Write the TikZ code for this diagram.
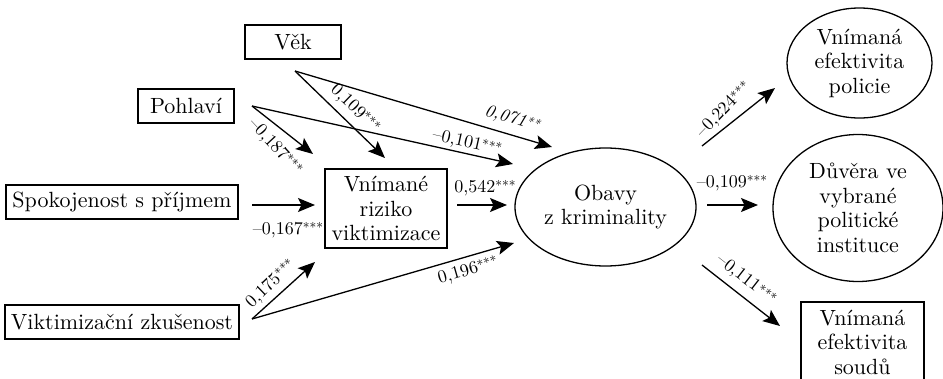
\documentclass[tikz,border=0pt]{standalone}
\usepackage{fontspec}
\setmainfont{lmroman10-regular.otf}[ItalicFont=lmroman10-italic.otf, BoldFont=lmroman10-bold.otf]
\usetikzlibrary{shapes.geometric,arrows.meta}
\newcommand\stars[1]{\raisebox{0.1em}{\fontsize{13.5}{14}\selectfont #1}}
\begin{document}
\begin{tikzpicture}[x=1pt,y=-1pt,
  box/.style={draw, line width=1.2pt, inner sep=0pt, align=center, font=\fontsize{22}{24.5}\selectfont},
  oval/.style={ellipse, draw, line width=1.3pt, inner sep=0pt, align=center, font=\fontsize{22}{24.5}\selectfont},
  arr/.style={line width=1.3pt, -{Stealth[length=17pt,width=14pt,inset=3.5pt]}},
  lab/.style={font=\fontsize{18}{19}\selectfont, inner sep=0pt}]
\useasboundingbox[fill=white] (0,0) rectangle (943,378);
% nodes
\node[box, minimum width=96pt, minimum height=34pt] (vek) at (293,42) {Věk};
\node[box, minimum width=96pt, minimum height=34pt] (pohl) at (186,106) {Pohlaví};
\node[box, minimum width=232pt, minimum height=34pt] (spok) at (122,202) {Spokojenost s příjmem};
\node[box, minimum width=234pt, minimum height=34pt] (vikt) at (122,322) {Viktimizační zkušenost};
\node[box, minimum width=122pt, minimum height=79pt] (riz) at (386,208.5) {Vnímané\\riziko\\viktimizace};
\node[oval, minimum width=181pt, minimum height=118pt] (obavy) at (605.5,207) {Obavy\\z kriminality};
\node[oval, minimum width=145pt, minimum height=110pt] (pol) at (859.5,63) {Vnímaná\\efektivita\\policie};
\node[oval, minimum width=170pt, minimum height=147pt] (duv) at (858,208) {Důvěra ve\\vybrané\\politické\\instituce};
\node[box, minimum width=123pt, minimum height=80pt] (soud) at (862.5,342) {Vnímaná\\efektivita\\soudů};
% connector ends
\coordinate (vekS) at (295,71);
\coordinate (pohlS) at (252,106);
\coordinate (spokS) at (252,205);
\coordinate (viktS) at (252,319);
\coordinate (rizS) at (457,205);
\coordinate (obS1) at (702,146);
\coordinate (obS2) at (707,205);
\coordinate (obS3) at (702,265);
\coordinate (vekE1) at (552,147);
\coordinate (vekE2) at (385,158);
\coordinate (pohlE1) at (313,154);
\coordinate (pohlE2) at (513,164);
\coordinate (spokE) at (315,205);
\coordinate (rizE) at (507,205);
\coordinate (viktE1) at (315,262);
\coordinate (viktE2) at (514,243);
\coordinate (polE) at (775,88);
\coordinate (duvE) at (758,205);
\coordinate (soudE) at (780,326);
% connectors
\draw[arr] (vekS) -- (vekE1);
\draw[arr] (vekS) -- (vekE2);
\draw[arr] (pohlS) -- (pohlE1);
\draw[arr] (pohlS) -- (pohlE2);
\draw[arr] (spokS) -- (spokE);
\draw[arr] (rizS) -- (rizE);
\draw[arr] (viktS) -- (viktE1);
\draw[arr] (viktS) -- (viktE2);
\draw[arr] (obS1) -- (polE);
\draw[arr] (obS2) -- (duvE);
\draw[arr] (obS3) -- (soudE);
% labels
\node[lab, rotate=-16.5] (l1) at (512,119) {\textit{0,071\stars{**}}};
\node[lab, rotate=-12.5] (l2) at (467,143) {–0,101\stars{***}};
\node[lab, rotate=-44] (l3) at (355,109) {0,109\stars{***}};
\node[lab, rotate=-47] (l4) at (275,147) {–0,187\stars{***}};
\node[lab] (l5) at (288,230) {–0,167\stars{***}};
\node[lab] (l6) at (485,188) {0,542\stars{***}};
\node[lab, rotate=44] (l7) at (271,284) {0,175\stars{***}};
\node[lab, rotate=16] (l8) at (468,271) {0,196\stars{***}};
\node[lab, rotate=46] (l9) at (724,110) {–0,224\stars{***}};
\node[lab] (l10) at (732,183) {–0,109\stars{***}};
\node[lab, rotate=-38] (l11) at (746,280) {–0,111\stars{***}};
\end{tikzpicture}
\end{document}
